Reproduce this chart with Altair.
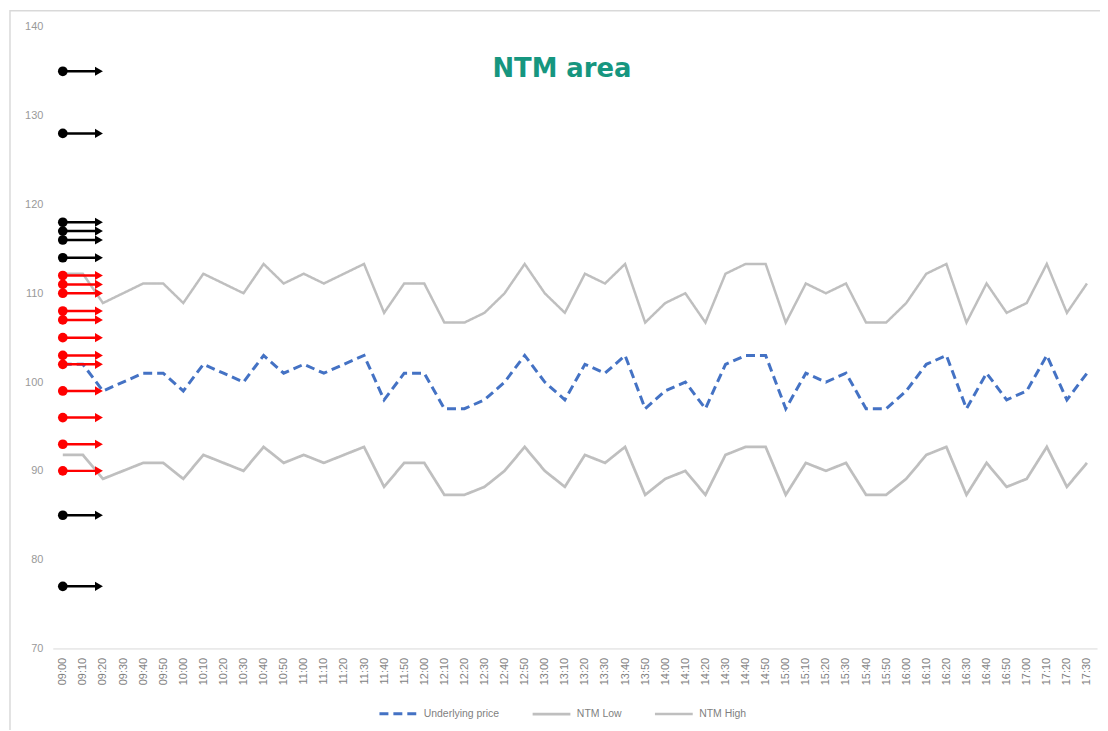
import altair as alt
import pandas as pd

times = ["09:00","09:10","09:20","09:30","09:40","09:50",
         "10:00","10:10","10:20","10:30","10:40","10:50",
         "11:00","11:10","11:20","11:30","11:40","11:50",
         "12:00","12:10","12:20","12:30","12:40","12:50",
         "13:00","13:10","13:20","13:30","13:40","13:50",
         "14:00","14:10","14:20","14:30","14:40","14:50",
         "15:00","15:10","15:20","15:30","15:40","15:50",
         "16:00","16:10","16:20","16:30","16:40","16:50",
         "17:00","17:10","17:20","17:30"]

underlying = [102,102,99,100,101,101,
              99,102,101,100,103,101,
              102,101,102,103,98,101,
              101,97,97,98,100,103,
              100,98,102,101,103,97,
              99,100,97,102,103,103,
              97,101,100,101,97,97,
              99,102,103,97,101,98,
              99,103,98,101]

ntm_low = [91.8,91.8,89.1,90.0,90.9,90.9,
           89.1,91.8,90.9,90.0,92.7,90.9,
           91.8,90.9,91.8,92.7,88.2,90.9,
           90.9,87.3,87.3,88.2,90.0,92.7,
           90.0,88.2,91.8,90.9,92.7,87.3,
           89.1,90.0,87.3,91.8,92.7,92.7,
           87.3,90.9,90.0,90.9,87.3,87.3,
           89.1,91.8,92.7,87.3,90.9,88.2,
           89.1,92.7,88.2,90.9]

ntm_high = [112.2,112.2,108.9,110.0,111.1,111.1,
            108.9,112.2,111.1,110.0,113.3,111.1,
            112.2,111.1,112.2,113.3,107.8,111.1,
            111.1,106.7,106.7,107.8,110.0,113.3,
            110.0,107.8,112.2,111.1,113.3,106.7,
            108.9,110.0,106.7,112.2,113.3,113.3,
            106.7,111.1,110.0,111.1,106.7,106.7,
            108.9,112.2,113.3,106.7,111.1,107.8,
            108.9,113.3,107.8,111.1]

strikes = [135,128,118,117,116,114,112,111,110,108,107,105,103,102,99,96,93,90,85,77]
strike_colors = ["black","black","black","black","black","black",
                 "red","red","red","red","red","red","red","red","red","red","red","red",
                 "black","black"]

series_names = ["Underlying price", "NTM Low", "NTM High"]

rows = []
for name, vals in zip(series_names, [underlying, ntm_low, ntm_high]):
    for i, v in enumerate(vals):
        rows.append({"i": i, "value": v, "series": name})
lines_df = pd.DataFrame(rows)

arrows_df = pd.DataFrame({"strike": strikes, "col": strike_colors})
arrows_df["x0"] = 0
arrows_df["x1"] = 1.8

label_expr = "[" + ",".join("'%s'" % t for t in times) + "][datum.value]"

FONT = "Liberation Sans"

xscale = alt.Scale(domain=[-0.5, 51.5], nice=False, zero=False)
yscale = alt.Scale(domain=[70, 140], nice=False, zero=False)

xaxis = alt.Axis(values=list(range(len(times))), labelExpr=label_expr, labelAngle=270,
                 labelFontSize=11, labelColor="#7f7f7f", labelFont=FONT, grid=False,
                 ticks=False, tickSize=0, labelPadding=9, domainColor="#d9d9d9",
                 domainWidth=1, title=None, labelOverlap=False, labelFlush=False,
                 labelBound=False, labelSeparation=0)
yaxis = alt.Axis(values=list(range(70, 141, 10)), labelFontSize=11, labelColor="#999999",
                 labelFont=FONT, grid=False, ticks=False, tickSize=0, domain=False,
                 labelPadding=10, title=None)

lines = alt.Chart(lines_df).mark_line().encode(
    x=alt.X("i:Q", scale=xscale, axis=xaxis),
    y=alt.Y("value:Q", scale=yscale, axis=yaxis),
    color=alt.Color("series:N",
                    scale=alt.Scale(domain=series_names, range=["#4472c4", "#bfbfbf", "#bfbfbf"]),
                    legend=alt.Legend(orient="none", legendX=327, legendY=670, direction="horizontal",
                                      title=None, symbolType="stroke", symbolSize=1444,
                                      symbolStrokeWidth=2.8, labelFontSize=10.5, labelFont=FONT,
                                      labelColor="#7f7f7f", labelOffset=5, columnPadding=28)),
    strokeDash=alt.StrokeDash("series:N",
                              scale=alt.Scale(domain=series_names, range=[[9, 5], [1, 0], [1, 0]]),
                              legend=None),
    strokeWidth=alt.StrokeWidth("series:N",
                                scale=alt.Scale(domain=series_names, range=[3, 2.5, 2.5]),
                                legend=None),
    detail="series:N",
)

arrow_color = alt.Color("col:N", scale=None)

arrow_lines = alt.Chart(arrows_df).mark_rule(strokeWidth=2.5).encode(
    x=alt.X("x0:Q", scale=xscale, axis=xaxis),
    x2="x1:Q",
    y=alt.Y("strike:Q", scale=yscale, axis=yaxis),
    color=arrow_color,
)
arrow_dots = alt.Chart(arrows_df).mark_point(filled=True, shape="circle", size=95, opacity=1).encode(
    x=alt.X("x0:Q", scale=xscale, axis=xaxis),
    y=alt.Y("strike:Q", scale=yscale, axis=yaxis),
    color=arrow_color,
)
arrow_heads = alt.Chart(arrows_df).mark_point(filled=True, shape="triangle-right", size=85, opacity=1).encode(
    x=alt.X("x1:Q", scale=xscale, axis=xaxis),
    y=alt.Y("strike:Q", scale=yscale, axis=yaxis),
    color=arrow_color,
)

title_df = pd.DataFrame({"t": ["NTM area"]})
title = alt.Chart(title_df).mark_text(font="DejaVu Sans", fontWeight="bold", fontSize=26,
                                      color="#16967f", baseline="middle", align="center").encode(
    text="t:N", x=alt.value(512), y=alt.value(42))

border = alt.Chart(title_df).mark_rect(fillOpacity=0, stroke="#d9d9d9", strokeWidth=1.5).encode(
    x=alt.value(-43), x2=alt.value(1080), y=alt.value(-16.2), y2=alt.value(760))

chart = alt.layer(border, lines, arrow_lines, arrow_dots, arrow_heads, title).properties(
    width=1050, height=625,
    autosize=alt.AutoSizeParams(type="none"),
    padding={"left": 45, "top": 17, "right": 3, "bottom": 80},
).configure(background="white", view=alt.ViewConfig(stroke=None),
            axisX=alt.AxisConfig(labelOverlap=False))

chart.save("out.html", embed_options={"renderer": "svg", "actions": False})
